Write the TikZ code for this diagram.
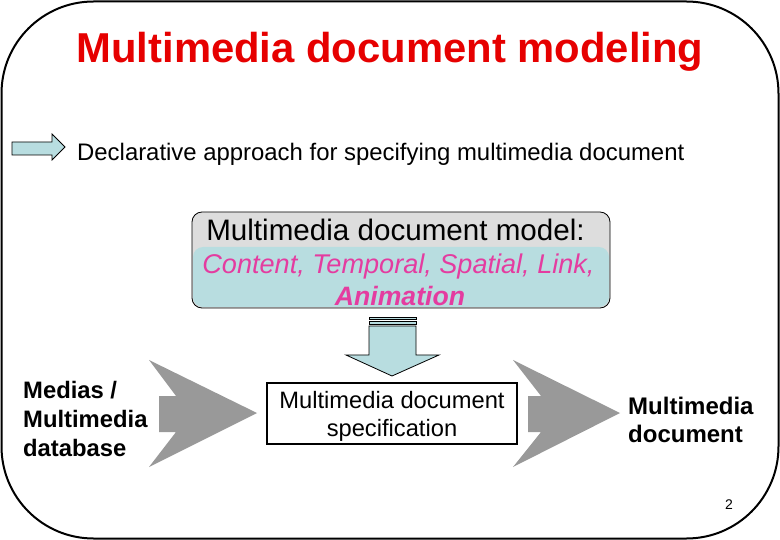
\documentclass[tikz,border=0pt]{standalone}
\usepackage{fontspec}
\setmainfont{Liberation Sans}
\definecolor{titlered}{RGB}{230,0,0}
\definecolor{pinktext}{RGB}{228,60,160}
\definecolor{lightblue}{RGB}{184,221,224}
\definecolor{boxgray}{RGB}{221,221,221}
\definecolor{arrowgray}{RGB}{153,153,153}
\tikzset{
  fs/.style={font=\fontsize{#1}{#1}\selectfont},
  bluearrow/.style={fill=lightblue,draw=black,line width=0.8pt,line join=miter},
  grayarrow/.style={fill=arrowgray,draw=none},
  plainbox/.style={draw=black,line width=1.5pt,fill=white},
}
\begin{document}
\begin{tikzpicture}[x=1pt,y=-1pt]
\useasboundingbox (0,0) rectangle (780,540);
% frame
\draw[line width=2pt,rounded corners=92pt] (1.5,1.5) rectangle (778.5,538.5);
% title
\node[anchor=base,text=titlered,font=\fontsize{41.8}{41.8}\selectfont\bfseries] (title) at (390,63) {Multimedia document modeling};
% small blue arrow
\draw[bluearrow] (12,142) -- (52,142) -- (52,134) -- (65,147) -- (52,160) -- (52,155) -- (12,155) -- cycle;
\node[anchor=base west,fs=23.9,inner sep=0pt] (decl) at (77,161) {Declarative approach for specifying multimedia document};
% model box
\draw[fill=boxgray,draw=none,rounded corners=10pt] (192,212) rectangle (610,308);
\fill[lightblue,rounded corners=10pt] (193,247) rectangle (609,307);
\draw[line width=0.8pt,rounded corners=10pt] (192,212) rectangle (610,308);
\node[anchor=base,fs=29.6,inner sep=0pt] (model) at (395.5,241) {Multimedia document model:};
\node[anchor=base,fs=27.1,text=pinktext,inner sep=0pt] (aspects) at (398.5,274) {\itshape Content, Temporal, Spatial, Link,};
\node[anchor=base,fs=26.6,text=pinktext,inner sep=0pt] (anim) at (400,306) {\bfseries\itshape Animation};
% down arrow with stripes
\draw[bluearrow,line width=0.6pt] (369,317) rectangle (416,319.5);
\draw[bluearrow,line width=0.6pt] (369,321) rectangle (416,324);
\draw[bluearrow] (369,326) -- (416,326) -- (416,355) -- (439,355) -- (392,376) -- (346,355) -- (369,355) -- cycle;
% left text
\node[anchor=west,align=left,font=\fontsize{23.8}{29}\selectfont\bfseries,inner sep=0pt] (medias) at (23,419) {Medias /\\Multimedia\\database};
% gray arrow 1
\fill[grayarrow] (149,360) -- (257,413) -- (149,467) -- (176,432) -- (159,432) -- (159,396) -- (176,396) -- cycle;
% spec box
\node[plainbox,minimum width=250pt,minimum height=61pt,inner sep=0pt] (spec) at (392,413.5) {};
\node[align=center,font=\fontsize{23.7}{28}\selectfont,inner sep=0pt] (spectext) at (392,416.5) {Multimedia document\\specification};
% gray arrow 2
\fill[grayarrow] (513,360) -- (620,413) -- (513,467) -- (541,432) -- (528,432) -- (528,396) -- (541,396) -- cycle;
% right text
\node[anchor=west,align=left,font=\fontsize{24}{28}\selectfont\bfseries,inner sep=0pt] (result) at (628,420) {Multimedia\\document};
% page number
\node[font=\fontsize{14}{14}\selectfont,inner sep=0pt] (pagenum) at (729,505) {2};
\end{tikzpicture}
\end{document}
